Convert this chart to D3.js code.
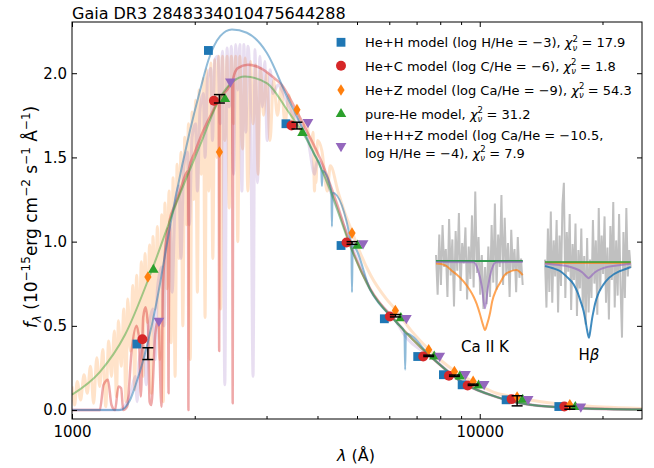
<!DOCTYPE html>
<html>
<head>
<meta charset="utf-8">
<script src="https://cdn.jsdelivr.net/npm/d3@7"></script>
<style>
  body { margin: 0; background: #fff; }
  text { font-family: "DejaVu Sans", sans-serif; fill: #000; }
</style>
</head>
<body>
<script>
// photometric bands (A) and observed fluxes (1e-15 erg/cm2/s/A)
var bandWave = [1535, 2299, 3562, 4862, 6209, 7496, 8668, 9634, 12350, 16630];
var obsFlux = [0.335, 1.848, 1.689, 0.992, 0.560, 0.322, 0.204, 0.150, 0.055, 0.014];
var obsErr = [0.035, 0.025, 0.020, 0.008, 0.007, 0.004, 0.004, 0.004, 0.030, 0.009];

// synthetic fluxes of every model in the same bands
var fluxHeH = [0.392, 2.135, 1.700, 0.977, 0.542, 0.318, 0.210, 0.150, 0.061, 0.021];
var fluxHeC = [0.420, 1.837, 1.690, 0.995, 0.556, 0.318, 0.204, 0.146, 0.065, 0.021];
var fluxHeZ = [0.790, 1.532, 1.783, 1.051, 0.591, 0.358, 0.229, 0.170, 0.077, 0.031];
var fluxPureHe = [0.833, 1.847, 1.645, 0.976, 0.546, 0.318, 0.200, 0.146, 0.061, 0.018];
var fluxHeHZ = [0.530, 1.950, 1.710, 0.990, 0.546, 0.322, 0.214, 0.154, 0.065, 0.021];

var chi2 = ["17.9", "1.8", "54.3", "31.2", "7.9"];

// model spectra [wavelength, flux]
var specPureHe = [[1000,0.091],[1171,0.227],[1349,0.447],[1571,0.833],[1790,1.21],[2062,1.574],[2309,1.855],[2657,1.98],[3010,1.94],[3367,1.783],[3767,1.605],[4297,1.308],[4817,0.971],[5389,0.714],[6269,0.517],[7578,0.318],[9120,0.16],[11020,0.077],[13320,0.031],[17640,0.011],[25000,0.003]];

var specHeH = [[1000,0.0],[1312,0.0],[1388,0.06],[1428,0.14],[1497,0.30],[1568,0.50],[1645,0.754],[1699,0.952],[1790,1.249],[1949,1.664],[2062,1.9],[2162,2.08],[2309,2.22],[2467,2.26],[2684,2.24],[3006,2.12],[3367,1.862],[3631,1.70],[3911,1.526],[4085,1.43],[4102,1.33],[4119,1.42],[4325,1.30],[4340,1.09],[4355,1.29],[4842,0.985],[4861,0.70],[4880,0.975],[5389,0.714],[6269,0.517],[6535,0.465],[6563,0.24],[6591,0.455],[7578,0.318],[9120,0.16],[11020,0.077],[13320,0.031],[17640,0.011],[25000,0.003]];

var specHeC = [[1000,0],[1170,0],[1195,0.15],[1225,0.18],[1250,0.03],[1275,0.0],[1300,0.14],[1320,0.13],[1335,0.0],[1365,0.02],[1400,0.35],[1440,0.5],[1460,0.42],[1475,0.08],[1495,0.55],[1515,0.61],[1535,0.5],[1550,0.05],[1565,0.03],[1600,0.45],[1630,0.54],[1650,0.1],[1657,0.02],[1670,0.7],[1700,1.0],[1718,1.08],[1725,0.1],[1733,1.12],[1790,1.22],[1840,1.3],[1900,1.4],[1925,1.42],[1930,0.0],[1935,1.43],[2000,1.53],[2100,1.66],[2200,1.76],[2290,1.83],[2296,0.35],[2302,1.84],[2400,1.9],[2470,1.94],[2478,0.04],[2486,1.97],[2550,2.03],[2700,2.05],[2900,2.03],[3100,1.98],[3272,1.93],[3529,1.79],[3807,1.635],[4105,1.467],[4500,1.2],[4817,0.98],[5389,0.72],[6269,0.52],[7578,0.318],[9120,0.16],[11020,0.077],[13320,0.031],[17640,0.011],[25000,0.003]];

var specHeZ = [[1000,0.14],[1015,0.03],[1030,0.17],[1050,0.06],[1070,0.21],[1090,0.1],[1110,0.26],[1130,0.04],[1150,0.31],[1170,0.14],[1190,0.36],[1210,0.02],[1230,0.41],[1250,0.2],[1270,0.47],[1285,0.08],[1300,0.53],[1320,0.26],[1340,0.6],[1355,0.05],[1370,0.66],[1390,0.35],[1410,0.74],[1425,0.12],[1440,0.8],[1460,0.45],[1480,0.88],[1495,0.2],[1510,0.93],[1530,0.52],[1550,0.98],[1565,0.1],[1580,1.03],[1600,0.6],[1620,1.09],[1640,0.3],[1660,1.16],[1675,0.05],[1690,1.23],[1710,0.72],[1730,1.3],[1750,0.4],[1770,1.38],[1790,0.2],[1810,1.46],[1830,0.9],[1850,1.53],[1870,0.5],[1890,1.62],[1910,1.1],[1930,1.7],[1950,0.3],[1970,1.77],[1990,1.25],[2010,1.84],[2030,0.7],[2050,1.9],[2075,1.4],[2100,1.97],[2120,0.55],[2140,2.02],[2165,1.3],[2190,2.06],[2215,0.9],[2240,2.08],[2265,1.5],[2290,2.1],[2315,0.6],[2340,2.1],[2370,1.6],[2400,2.1],[2430,1.2],[2460,2.1],[2490,1.7],[2520,2.1],[2550,1.0],[2580,2.1],[2620,1.55],[2660,2.09],[2700,1.3],[2740,2.07],[2780,1.7],[2820,2.05],[2860,1.4],[2900,2.03],[2950,1.75],[3000,2.0],[3060,1.6],[3120,1.96],[3190,1.75],[3260,1.92],[3330,1.7],[3400,1.87],[3480,1.72],[3560,1.81],[3650,1.64],[3750,1.72],[3850,1.56],[3900,1.65],[3934,1.3],[3950,1.55],[3968,1.35],[4000,1.6],[4100,1.54],[4227,1.3],[4300,1.45],[4500,1.29],[4700,1.15],[4860,1.06],[5000,0.98],[5400,0.8],[5900,0.66],[6200,0.6],[6800,0.47],[7500,0.36],[8700,0.23],[9600,0.17],[11000,0.1],[12300,0.077],[13300,0.06],[16600,0.031],[20000,0.018],[25000,0.01]];

var specHeHZ = [[1000,0],[1300,0],[1360,0.04],[1400,0.12],[1430,0.2],[1445,0.05],[1460,0.28],[1500,0.38],[1520,0.15],[1540,0.47],[1580,0.6],[1600,0.3],[1620,0.72],[1660,0.85],[1680,0.5],[1700,0.98],[1740,1.1],[1760,0.7],[1790,1.22],[1830,1.33],[1850,0.9],[1880,1.45],[1920,1.53],[1940,1.1],[1970,1.62],[2010,1.7],[2030,1.3],[2060,1.78],[2100,1.88],[2120,1.5],[2150,1.97],[2190,2.03],[2210,1.6],[2240,2.08],[2280,2.1],[2310,1.7],[2340,2.13],[2370,0.15],[2400,2.15],[2430,1.8],[2460,2.16],[2490,1.4],[2520,2.17],[2550,1.9],[2580,2.17],[2610,1.3],[2640,2.17],[2670,1.65],[2700,2.16],[2740,1.85],[2780,0.2],[2810,2.14],[2850,1.35],[2890,2.1],[2930,1.8],[2970,2.07],[3010,1.6],[3060,2.02],[3110,1.88],[3200,1.93],[3300,1.88],[3400,1.8],[3600,1.71],[3800,1.59],[3934,1.4],[3968,1.45],[4000,1.48],[4300,1.3],[4600,1.12],[4861,0.97],[5389,0.715],[6269,0.517],[6563,0.44],[7578,0.318],[9120,0.16],[11020,0.077],[13320,0.031],[17640,0.011],[25000,0.003]];

// insets: normalised observed spectrum and models round Ca II K and H-beta
var caRange = [3885, 3970];
var caObs = [1.05,0.72,1.22,0.80,1.30,0.95,1.10,0.70,1.35,0.88,1.18,0.62,1.25,0.92,1.40,0.75,1.15,0.98,1.28,0.68,1.12,0.85,1.38,0.78,1.58,0.90,1.20,0.72,1.05,0.60,0.95,0.64,1.12,0.70,1.30,0.82,1.48,0.76,1.22,0.95,1.55,0.80,1.36,0.88,1.15,0.70,1.26,0.92,1.10,0.74,1.20,0.86,1.02,0.80];
var caHeZ = [[3885,0.98],[3890,0.975],[3895,0.96],[3901,0.915],[3905,0.89],[3912,0.83],[3918,0.76],[3922,0.7],[3925,0.64],[3928,0.56],[3931,0.47],[3933,0.425],[3935,0.47],[3938,0.567],[3940,0.66],[3944,0.76],[3948,0.82],[3952,0.88],[3957,0.91],[3961,0.922],[3964,0.925],[3967,0.91],[3970,0.883]];
var caHeHZ = [[3885,0.992],[3922,0.99],[3926,0.93],[3930,0.786],[3933,0.606],[3936,0.786],[3940,0.94],[3944,0.99],[3970,0.992]];
var caFlat = [[3885,1.0],[3970,1.0]];

var hbRange = [4800, 4920];
var hbObs = [1.02,0.62,1.28,0.75,1.42,0.66,1.18,0.88,1.35,0.58,1.22,0.80,1.48,1.66,0.70,1.25,0.92,1.40,0.60,1.15,0.85,1.32,0.55,1.10,0.78,1.28,0.62,1.05,0.48,1.20,0.58,1.02,0.70,1.35,0.82,1.18,0.56,1.45,0.76,1.22,0.90,1.38,0.66,1.12,0.52,1.30,0.85,1.50,0.62,1.18,0.72,1.40,0.80,0.37,1.25,0.70,1.45,0.88,1.10,0.95];
var hbHeH = [[4800,0.967],[4810,0.95],[4821,0.925],[4830,0.88],[4840,0.814],[4846,0.74],[4850,0.67],[4854,0.592],[4857,0.5],[4859,0.43],[4861.5,0.369],[4864,0.45],[4866,0.53],[4868,0.592],[4870,0.65],[4875,0.74],[4882,0.814],[4890,0.87],[4905,0.925],[4912,0.94],[4920,0.958]];
var hbHeHZ = [[4800,0.986],[4820,0.975],[4840,0.95],[4852,0.915],[4858,0.88],[4861,0.865],[4864,0.88],[4870,0.915],[4882,0.95],[4900,0.97],[4920,0.985]];
var hbHeZ = [[4800,0.992],[4920,0.992]];
var hbFlat = [[4800,1.0],[4920,1.0]];

var colors = { blue: "#1f77b4", red: "#d62728", orange: "#ff7f0e", green: "#2ca02c", purple: "#9467bd" };

var W = 654, H = 468;
var L = 72, R = 642, T = 22, B = 419;

var svg = d3.select("body").append("svg").attr("width", W).attr("height", H);

var x = d3.scaleLog().domain([1000, 25000]).range([L, R]);
var y = d3.scaleLinear().domain([-0.053, 2.304]).range([B, T]);

svg.append("clipPath").attr("id", "plotclip")
    .append("rect").attr("x", L).attr("y", T).attr("width", R - L).attr("height", B - T);

var line = d3.line().x(function (d) { return x(d[0]); }).y(function (d) { return y(d[1]); })
    .curve(d3.curveMonotoneX);

var curves = svg.append("g").attr("clip-path", "url(#plotclip)");
var spectra = [
    { data: specHeZ, color: colors.orange, op: 0.22, w: 3 },
    { data: specHeHZ, color: colors.purple, op: 0.22, w: 3 },
    { data: specHeC, color: colors.red, op: 0.4, w: 2.5 },
    { data: specHeH, color: colors.blue, op: 0.5, w: 2 },
    { data: specPureHe, color: colors.green, op: 0.45, w: 2 }
];
spectra.forEach(function (s) {
    curves.append("path").attr("d", line(s.data)).attr("fill", "none")
        .attr("stroke", s.color).attr("stroke-opacity", s.op).attr("stroke-width", s.w)
        .attr("stroke-linejoin", "round");
});

// insets
function drawInset(range, xr, yr, obs, models) {
    var ix = d3.scaleLinear().domain(range).range(xr);
    var iy = d3.scaleLinear().domain([0.4, 1.6]).range(yr);
    var step = d3.scaleLinear().domain([0, obs.length - 1]).range(range);
    var il = d3.line().x(function (d) { return ix(d[0]); }).y(function (d) { return iy(d[1]); });
    var g = svg.append("g");
    g.append("path").attr("d", il(obs.map(function (v, i) { return [step(i), v]; })))
        .attr("fill", "none").attr("stroke", "#c0c0c0").attr("stroke-width", 2);
    var ml = d3.line().x(function (d) { return ix(d[0]); }).y(function (d) { return iy(d[1]); })
        .curve(d3.curveMonotoneX);
    models.forEach(function (m) {
        g.append("path").attr("d", ml(m.data)).attr("fill", "none")
            .attr("stroke", m.color).attr("stroke-opacity", m.op).attr("stroke-width", 2);
    });
}
drawInset(caRange, [436, 522.7], [333, 189], caObs, [
    { data: caFlat, color: colors.blue, op: 0.85 },
    { data: caHeZ, color: colors.orange, op: 0.7 },
    { data: caFlat, color: colors.green, op: 0.75 },
    { data: caHeHZ, color: colors.purple, op: 0.65 }
]);
drawInset(hbRange, [545, 630.7], [334, 190], hbObs, [
    { data: hbHeH, color: colors.blue, op: 0.85 },
    { data: hbHeZ, color: colors.orange, op: 0.7 },
    { data: hbFlat, color: colors.green, op: 0.75 },
    { data: hbHeHZ, color: colors.purple, op: 0.65 }
]);
svg.append("text").attr("x", 485).attr("y", 352).attr("text-anchor", "middle")
    .style("font-size", "15px").text("Ca II K");
var hb = svg.append("text").attr("x", 589).attr("y", 360).attr("text-anchor", "middle")
    .style("font-size", "15px");
hb.append("tspan").text("H");
hb.append("tspan").style("font-style", "italic").text("β");

// markers
var thinDiamond = {
    draw: function (context, size) {
        var r = Math.sqrt(size) / 2;
        context.moveTo(0, -r * 1.3);
        context.lineTo(r * 0.8, 0);
        context.lineTo(0, r * 1.3);
        context.lineTo(-r * 0.8, 0);
        context.closePath();
    }
};
var models = [
    { flux: fluxHeH, color: colors.blue, type: d3.symbolSquare, size: 78, rot: 0, dx: -11 },
    { flux: fluxHeC, color: colors.red, type: d3.symbolCircle, size: 78, rot: 0, dx: -5.5 },
    { flux: fluxHeZ, color: colors.orange, type: thinDiamond, size: 81, rot: 0, dx: 0 },
    { flux: fluxPureHe, color: colors.green, type: d3.symbolTriangle, size: 48, rot: 0, dx: 5.5 },
    { flux: fluxHeHZ, color: colors.purple, type: d3.symbolTriangle, size: 50, rot: 180, dx: 11 }
];
var mg = svg.append("g");
models.forEach(function (m) {
    var sym = d3.symbol().type(m.type).size(m.size);
    mg.selectAll(null).data(bandWave).enter().append("path")
        .attr("d", sym)
        .attr("transform", function (d, i) {
            return "translate(" + (x(d) + m.dx) + "," + y(m.flux[i]) + ") rotate(" + m.rot + ")";
        })
        .attr("fill", m.color);
});

// observed error bars
var eg = svg.append("g").attr("stroke", "#000").attr("stroke-width", 1.5);
bandWave.forEach(function (w, i) {
    var cx = x(w), y0 = y(obsFlux[i] - obsErr[i]), y1 = y(obsFlux[i] + obsErr[i]);
    eg.append("line").attr("x1", cx).attr("x2", cx).attr("y1", y0).attr("y2", y1);
    eg.append("line").attr("x1", cx - 5.5).attr("x2", cx + 5.5).attr("y1", y0).attr("y2", y0);
    eg.append("line").attr("x1", cx - 5.5).attr("x2", cx + 5.5).attr("y1", y1).attr("y2", y1);
});

// legend
var legRows = [
    { text: ["He+H model (log H/He = \u22123), "], ym: 42.3 },
    { text: ["He+C model (log C/He = \u22126), "], ym: 65.8 },
    { text: ["He+Z model (log Ca/He = \u22129), "], ym: 90 },
    { text: ["pure-He model, "], ym: 114 },
    { text: ["He+H+Z model (log Ca/He = \u221210.5,", "log H/He = \u22124), "], ym: 146 }
];
var lg = svg.append("g");
legRows.forEach(function (r, i) {
    var m = models[i];
    var sym = d3.symbol().type(m.type).size(m.size);
    lg.append("path").attr("d", sym)
        .attr("transform", "translate(341," + r.ym + ") rotate(" + m.rot + ")")
        .attr("fill", m.color);
    var lines = r.text;
    var y0 = lines.length === 1 ? r.ym + 4.7 : r.ym - 10.5 + 4.7;
    lines.forEach(function (s, k) {
        var t = lg.append("text").attr("x", 365).attr("y", y0 + k * 17.5).style("font-size", "13px");
        t.append("tspan").text(s);
        if (k === lines.length - 1) {
            t.append("tspan").style("font-style", "italic").text("\u03c7");
            t.append("tspan").style("font-size", "8.5px").attr("dy", -5.5).text("2");
            t.append("tspan").style("font-size", "8.5px").style("font-style", "italic")
                .attr("dx", -5.4).attr("dy", 9).text("\u03bd");
            t.append("tspan").attr("dy", -3.5).text(" = " + chi2[i]);
        }
    });
});

// axes
function styleAxis(g) {
    g.select(".domain").remove();
    g.selectAll("line").attr("stroke", "#000");
    g.selectAll("text").style("font-family", "DejaVu Sans").style("font-size", "15px").attr("fill", "#000");
}
var majorX = [1000, 10000];
var minorX = [2000, 3000, 4000, 5000, 6000, 7000, 8000, 9000, 20000];
var yTicks = [0, 0.5, 1.0, 1.5, 2.0];

svg.append("g").attr("transform", "translate(0," + B + ")")
    .call(d3.axisBottom(x).tickValues(majorX).tickFormat(d3.format("d")).tickSize(-5).tickPadding(7.5))
    .call(styleAxis);
svg.append("g").attr("transform", "translate(0," + B + ")")
    .call(d3.axisBottom(x).tickValues(minorX).tickFormat("").tickSize(-3))
    .call(styleAxis);
svg.append("g").attr("transform", "translate(0," + T + ")")
    .call(d3.axisTop(x).tickValues(majorX).tickFormat("").tickSize(-5))
    .call(styleAxis);
svg.append("g").attr("transform", "translate(0," + T + ")")
    .call(d3.axisTop(x).tickValues(minorX).tickFormat("").tickSize(-3))
    .call(styleAxis);
svg.append("g").attr("transform", "translate(" + L + ",0)")
    .call(d3.axisLeft(y).tickValues(yTicks).tickFormat(d3.format(".1f")).tickSize(-5).tickPadding(5))
    .call(styleAxis);
svg.append("g").attr("transform", "translate(" + R + ",0)")
    .call(d3.axisRight(y).tickValues(yTicks).tickFormat("").tickSize(-5))
    .call(styleAxis);

svg.append("rect").attr("x", L).attr("y", T).attr("width", R - L).attr("height", B - T)
    .attr("fill", "none").attr("stroke", "#000").attr("stroke-width", 1);

// title and axis labels
svg.append("text").attr("x", L).attr("y", 18.5).style("font-size", "16px")
    .text("Gaia DR3 2848334010475644288");

var xl = svg.append("text").attr("x", 356).attr("y", 461).attr("text-anchor", "middle")
    .style("font-size", "16px");
xl.append("tspan").style("font-style", "italic").text("\u03bb");
xl.append("tspan").text(" (\u00c5)");

var yl = svg.append("text").attr("transform", "translate(37,217) rotate(-90)")
    .attr("text-anchor", "middle").style("font-size", "17px");
yl.append("tspan").style("font-style", "italic").text("f");
yl.append("tspan").style("font-style", "italic").style("font-size", "12px").attr("dy", 4).text("\u03bb");
yl.append("tspan").attr("dy", -4).text(" (10");
yl.append("tspan").style("font-size", "12px").attr("dy", -7).text("\u221215");
yl.append("tspan").attr("dy", 7).text("erg cm");
yl.append("tspan").style("font-size", "12px").attr("dy", -7).text("\u22122");
yl.append("tspan").attr("dy", 7).text(" s");
yl.append("tspan").style("font-size", "12px").attr("dy", -7).text("\u22121");
yl.append("tspan").attr("dy", 7).text(" \u00c5");
yl.append("tspan").style("font-size", "12px").attr("dy", -7).text("\u22121");
yl.append("tspan").attr("dy", 7).text(")");
</script>
</body>
</html>
